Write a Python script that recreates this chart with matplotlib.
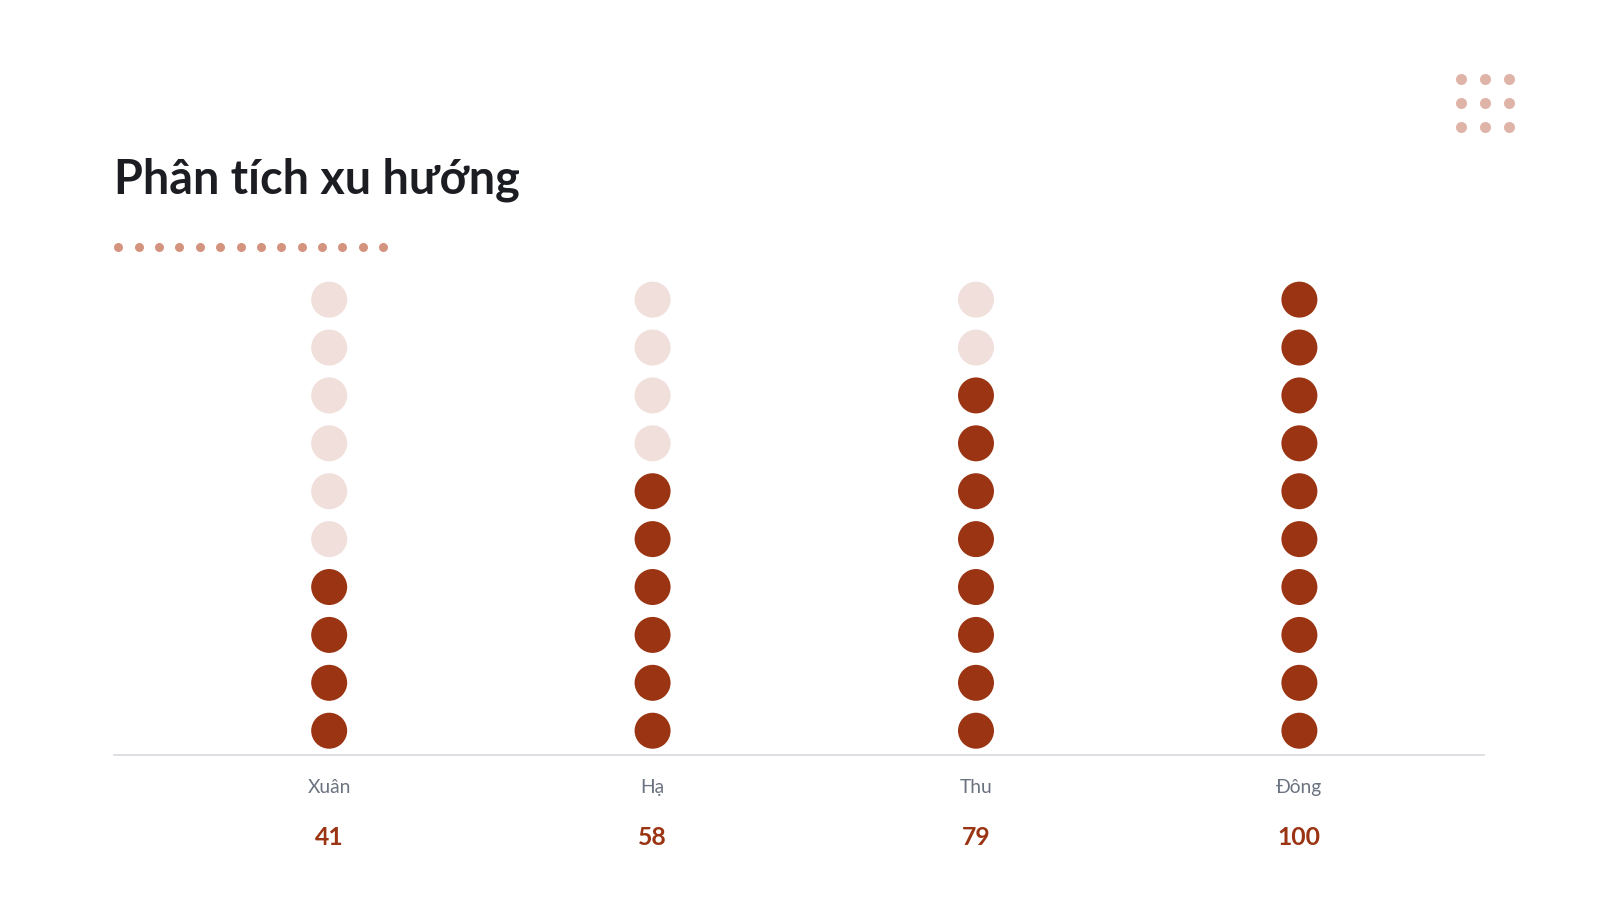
import matplotlib
matplotlib.use('Agg')
import matplotlib.pyplot as plt
import numpy as np

# data
seasons = ['Xuân', 'Hạ', 'Thu', 'Đông']
values = [41, 58, 79, 100]
n_dots = 10

dark = '#9a3412'
light = '#f0dfda'
plt.rcParams['font.family'] = ['Lato', 'DejaVu Sans']

W, H = 1598, 900
k = 1598 / 1568  # layout measured on a scaled view
fig = plt.figure(figsize=(W / 100, H / 100), dpi=100)
fig.patch.set_facecolor('white')

# main axes: x 0 -> col0, 3 -> col3 ; y 0 -> bottom dot, 9 -> top dot
left, right = 112 * k, 1456 * k
top, bottom = 270 * k, 741 * k
c0, c3 = 323 * k, 1275 * k
ax = fig.add_axes([left / W, (H - bottom) / H, (right - left) / W, (bottom - top) / H])
xu = (c3 - c0) / 3
ax.set_xlim((left - c0) / xu, 3 + (right - c3) / xu)
ax.set_ylim(-24 / 47, 9 + 24 / 47)

size = (36 * 0.72) ** 2
for i, v in enumerate(values):
    filled = int(round(v / 10))
    ys = np.arange(n_dots)
    cols = [dark if y < filled else light for y in ys]
    ax.scatter([i] * n_dots, ys, s=size, c=cols, linewidths=0, zorder=3, clip_on=False)
    ax.annotate(seasons[i], (i, 0), xycoords=('data', 'axes fraction'),
                xytext=(0, -23 * k), textcoords='offset points',
                ha='center', va='center', fontsize=13.5 * k, color='#6b7280')
    ax.annotate(str(v), (i, 0), xycoords=('data', 'axes fraction'),
                xytext=(0, -58.5 * k), textcoords='offset points',
                ha='center', va='center', fontsize=17.5 * k, fontweight='bold', color=dark)

for s in ['top', 'left', 'right']:
    ax.spines[s].set_visible(False)
ax.spines['bottom'].set_color('#d9d9de')
ax.spines['bottom'].set_linewidth(1.2)
ax.set_xticks([])
ax.set_yticks([])

# decoration layer in pixel coords
deco = fig.add_axes([0, 0, 1, 1], zorder=-1)
deco.set_xlim(0, W)
deco.set_ylim(H, 0)
deco.axis('off')
dx = (116 + 20 * np.arange(14)) * k
deco.scatter(dx, [242 * k] * len(dx), s=(9 * 0.72) ** 2, color='#d4937f', linewidths=0)
gx, gy = np.meshgrid(np.array([1434, 1457.5, 1481]) * k, np.array([78, 101.5, 125]) * k)
deco.scatter(gx.ravel(), gy.ravel(), s=(11 * 0.72) ** 2, color='#dfb3a7', linewidths=0)

fig.text(left / W, (H - 190 * k) / H, 'Phân tích xu hướng', fontsize=33 * k,
         fontweight='bold', color='#1c1d22', ha='left', va='baseline')

fig.savefig('out.png', dpi=100, facecolor='white')
